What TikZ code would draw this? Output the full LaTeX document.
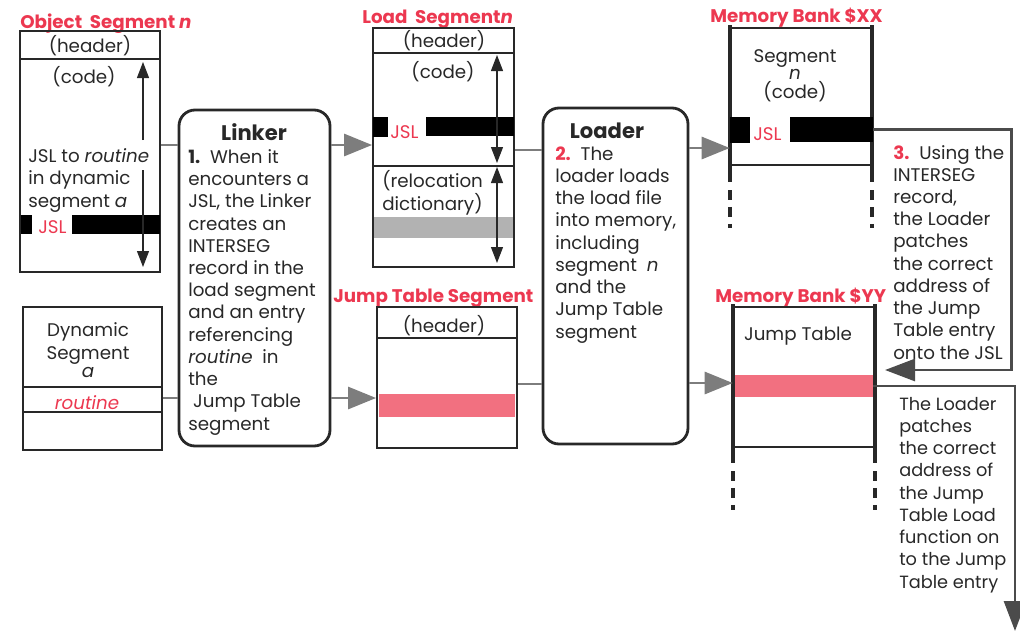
\documentclass[tikz,border=0pt]{standalone}
\usepackage{fontspec}
\setmainfont{Poppins}
\usetikzlibrary{arrows.meta,fit}

\definecolor{labelred}{RGB}{236,56,80}
\definecolor{ink}{RGB}{40,40,40}
\definecolor{barred}{RGB}{242,112,128}
\definecolor{stipple}{RGB}{178,178,178}
\definecolor{linkgray}{RGB}{125,125,125}
\definecolor{patchgray}{RGB}{75,75,75}

\tikzset{
  seglabel/.style={text=labelred, font=\fontsize{13}{15}\selectfont\bfseries, inner sep=0pt, anchor=base west},
  procttl/.style={text=ink, font=\fontsize{15}{18}\selectfont\bfseries, inner sep=0pt, anchor=base},
  body/.style={text=ink, font=\fontsize{13}{15.8}\selectfont, inner sep=0pt, align=left, anchor=base west},
  segbox/.style={draw=ink, line width=1.3pt, inner sep=0pt},
  segline/.style={draw=ink, line width=1.3pt},
  procbox/.style={draw=ink, line width=2pt, rounded corners=0.4cm, inner sep=0pt},
  jslbar/.style={fill=black, inner sep=0pt},
  bankwall/.style={draw=ink, line width=2.4pt},
  bankrule/.style={draw=ink, line width=1.2pt},
  link/.style={draw=linkgray, line width=2pt},
  feed/.style={link, -{Triangle[length=0.7cm, width=0.55cm]}},
  rangearrow/.style={draw=ink, line width=0.8pt, -{Triangle[length=0.4cm, width=0.3cm]}},
  rangeboth/.style={draw=ink, line width=0.8pt, {Triangle[length=0.4cm, width=0.3cm]}-{Triangle[length=0.4cm, width=0.3cm]}},
  patch/.style={draw=patchgray, line width=2pt, -{Triangle[length=0.75cm, width=0.55cm]}},
}

\begin{document}
\begin{tikzpicture}[x=0.025cm, y=-0.025cm]
    \useasboundingbox (0,0) rectangle (1020,633);

    % Object Segment n (multi-line texts sit on their last baseline)
    \node[seglabel] (objtitle) at (20,28) {Object\ \ Segment \textit{n}};
    \node[segbox, fit={(20,31) (160,272)}] (objseg) {};
    \draw[segline] (20,59) -- (160,59);
    \node[body, anchor=base] (objhead) at (90,52) {(header)};
    \node[body, anchor=base] (objcode) at (84,83) {(code)};
    \node[body] (objcall) at (28,207) {JSL to \textit{routine}\\in dynamic\\segment \textit{a}};
    \node[jslbar, fit={(21,215) (32,234)}] (objstub) {};
    \node[body, text=labelred] (objjsl) at (38,233) {JSL};
    \node[jslbar, fit={(72,215) (160,234)}] (objbar) {};
    \draw[rangearrow] (143,140) -- (143,62);
    \draw[rangearrow] (143,170) -- (143,267);

    % Dynamic Segment a
    \node[segbox, fit={(23,307) (162,450)}] (dynseg) {};
    \draw[segline] (23,387) -- (162,387);
    \draw[segline] (23,412) -- (162,412);
    \node[body, align=center, anchor=base] (dynname) at (88,377) {Dynamic\\Segment\\[-3pt]\textit{a}};
    \node[body, anchor=base, text=labelred] (dynroutine) at (87,409) {\textit{routine}};

    % Linker
    \node[procbox, fit={(179,110) (330,446)}] (linker) {};
    \node[procttl] (linkerttl) at (254,140) {Linker};
    \node[body] (linkertxt) at (188,430) {\textbf{1.}\ \ When it\\encounters a\\JSL, the Linker\\creates an\\INTERSEG\\record in the\\load segment\\and an entry\\referencing\\\textit{routine}\ \ in\\the\\\ Jump Table\\segment};

    % Load Segment n
    \node[seglabel] (loadtitle) at (362,23) {Load\ \ Segment\textit{n}};
    \node[segbox, fit={(373,28) (514,267)}] (loadseg) {};
    \draw[segline] (373,53) -- (514,53);
    \draw[segline] (373,166) -- (514,166);
    \node[body, anchor=base] (loadhead) at (444,47) {(header)};
    \node[body, anchor=base] (loadcode) at (443,78) {(code)};
    \node[jslbar, fit={(373,117) (388,137)}] (loadstub) {};
    \node[body, text=labelred] (loadjsl) at (390,138) {JSL};
    \node[jslbar, fit={(426,117) (514,136)}] (loadbar) {};
    \node[body] (loadreloc) at (382,210) {(relocation\\dictionary)};
    \fill[stipple] (374,217) rectangle (513,238);
    \draw[rangeboth] (497,55) -- (497,163);
    \draw[rangeboth] (497,167) -- (497,263);

    % Jump Table Segment
    \node[seglabel] (jumptitle) at (333,302) {Jump Table Segment};
    \node[segbox, fit={(377,307) (517,448)}] (jumpseg) {};
    \draw[segline] (377,338) -- (517,338);
    \node[body, anchor=base] (jumphead) at (444,332) {(header)};
    \node[fill=barred, inner sep=0pt, fit={(379,394) (515,417)}] (jumpentry) {};

    % Loader
    \node[procbox, fit={(543,108) (688,444)}] (loader) {};
    \node[procttl] (loaderttl) at (607,138) {Loader};
    \node[body] (loadertxt) at (555,338) {\textcolor{labelred}{\textbf{2.}}\ \ The\\loader loads\\the load file\\into memory,\\including\\segment\ \ \textit{n}\\and the\\Jump Table\\segment};

    % Memory Bank $XX
    \node[seglabel] (xxtitle) at (710,22) {Memory Bank \$XX};
    \node[inner sep=0pt, fit={(730,28) (872,165)}] (bankxx) {};
    \draw[bankwall] (730,25) -- (730,182);
    \draw[bankwall] (872,25) -- (872,182);
    \draw[bankwall, dash pattern=on 7pt off 5pt] (730,190) -- (730,228);
    \draw[bankwall, dash pattern=on 7pt off 5pt] (872,190) -- (872,228);
    \draw[bankrule] (730,28) -- (872,28);
    \draw[bankrule] (730,165) -- (872,165);
    \node[body, align=center, anchor=base, font=\fontsize{13}{12}\selectfont] (xxname) at (795,98) {Segment\\\textit{n}\\(code)};
    \node[jslbar, fit={(730,117) (750,143)}] (xxstub) {};
    \node[body, text=labelred] (xxjsl) at (753,140) {JSL};
    \node[jslbar, fit={(790,117) (873,142)}] (xxbar) {};

    % Memory Bank $YY
    \node[seglabel] (yytitle) at (715,302) {Memory Bank \$YY};
    \node[inner sep=0pt, fit={(733,307) (875,447)}] (bankyy) {};
    \draw[bankwall] (733,304) -- (733,463);
    \draw[bankwall] (875,304) -- (875,463);
    \draw[bankwall, dash pattern=on 7pt off 5pt] (733,471) -- (733,510);
    \draw[bankwall, dash pattern=on 7pt off 5pt] (875,471) -- (875,510);
    \draw[bankrule] (733,307) -- (875,307);
    \draw[bankrule] (733,447) -- (875,447);
    \node[body, anchor=base] (yyname) at (798,340) {Jump Table};
    \node[fill=barred, inner sep=0pt, fit={(735,375) (873,397)}] (yyentry) {};

    % notes on the patches
    \node[body] (patchjsl) at (893,359) {\textcolor{labelred}{\textbf{3.}}\ \ Using the\\INTERSEG\\record,\\the Loader\\patches\\the correct\\address of\\the Jump\\Table entry\\onto the JSL};
    \node[body, font=\fontsize{12.6}{15.8}\selectfont] (patchentry) at (899,588) {The Loader\\patches\\the correct\\address of\\the Jump\\Table Load\\function on\\to the Jump\\Table entry};

    % connectors
    \draw[link] (objseg.east |- 0,145) -- (linker.west |- 0,145);
    \draw[feed] (linker.east |- 0,145) -- (loadseg.west |- 0,145);
    \draw[link] (dynseg.east |- 0,398) -- (linker.west |- 0,398);
    \draw[feed] (linker.east |- 0,398) -- (jumpseg.west |- 0,398);
    \draw[link] (loadseg.east |- 0,150) -- (loader.west |- 0,150);
    \draw[feed] (loader.east |- 0,148) -- (bankxx.west |- 0,148);
    \draw[link] (jumpseg.east |- 0,384) -- (loader.west |- 0,384);
    \draw[feed] (loader.east |- 0,383) -- (bankyy.west |- 0,383);

    \coordinate (jsltip) at (885,370);
    \coordinate (entrytip) at (1015,631);
    \draw[patch] (xxbar.east) -- ++(138,0) |- (jsltip);
    \draw[patch] (yyentry.east) -| (entrytip);
\end{tikzpicture}
\end{document}
